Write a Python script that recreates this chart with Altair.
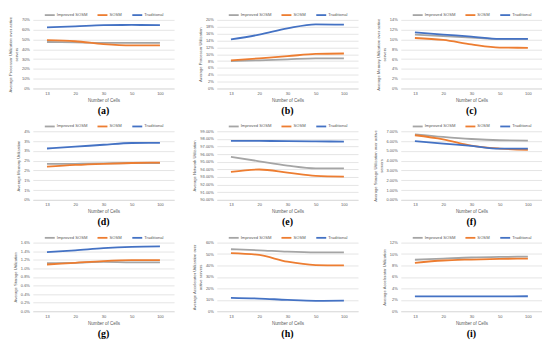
import altair as alt
import pandas as pd

cells = ["13", "20", "30", "50", "100"]
series_names = ["Improved SOSM", "SOSM", "Traditional"]
series_colors = ["#A5A5A5", "#ED7D31", "#4472C4"]

# values in percent
a_improved = [47.4, 47.0, 46.6, 46.6, 46.6]
a_sosm = [49.4, 48.2, 45.3, 44.0, 44.0]
a_traditional = [62.3, 63.3, 64.6, 64.8, 64.6]

b_improved = [8.0, 8.2, 8.5, 8.8, 8.8]
b_sosm = [8.2, 8.8, 9.4, 10.1, 10.2]
b_traditional = [14.3, 15.7, 17.5, 18.7, 18.6]

c_improved = [11.0, 10.7, 10.4, 10.1, 10.1]
c_sosm = [10.3, 9.9, 9.0, 8.35, 8.3]
c_traditional = [11.45, 11.0, 10.6, 10.1, 10.1]

d_improved = [1.83, 1.84, 1.86, 1.88, 1.88]
d_sosm = [1.69, 1.78, 1.84, 1.88, 1.90]
d_traditional = [2.62, 2.71, 2.81, 2.90, 2.91]

e_improved = [95.64, 95.06, 94.5, 94.13, 94.13]
e_sosm = [93.67, 93.98, 93.58, 93.14, 93.05]
e_traditional = [97.74, 97.73, 97.7, 97.66, 97.65]

f_improved = [6.69, 6.42, 6.21, 6.08, 6.04]
f_sosm = [6.59, 6.18, 5.53, 5.23, 5.09]
f_traditional = [6.0, 5.74, 5.5, 5.23, 5.23]

g_improved = [1.12, 1.13, 1.15, 1.14, 1.14]
g_sosm = [1.09, 1.13, 1.17, 1.19, 1.19]
g_traditional = [1.38, 1.42, 1.47, 1.50, 1.51]

h_improved = [54.2, 53.3, 52.1, 51.5, 51.5]
h_sosm = [50.9, 49.2, 43.3, 40.4, 40.1]
h_traditional = [11.7, 11.1, 9.9, 9.1, 9.3]

i_improved = [9.0, 9.2, 9.4, 9.5, 9.55]
i_sosm = [8.46, 8.87, 9.04, 9.16, 9.2]
i_traditional = [2.6, 2.6, 2.6, 2.6, 2.62]

panels_spec = [
    ("(a)", ["Average Processor Utilization over active", "servers"], 0, 70, 10, 0, a_improved, a_sosm, a_traditional),
    ("(b)", "Average Processor Utilization", 0, 20, 2, 0, b_improved, b_sosm, b_traditional),
    ("(c)", ["Average Memory Utilization over active", "servers"], 0, 14, 2, 0, c_improved, c_sosm, c_traditional),
    ("(d)", "Average Memory Utilization", 0, 3.5, 0.5, 0, d_improved, d_sosm, d_traditional),
    ("(e)", "Average Network Utilization", 90, 99, 1, 2, e_improved, e_sosm, e_traditional),
    ("(f)", ["Average Storage Utilization over active", "servers"], 0, 7, 1, 2, f_improved, f_sosm, f_traditional),
    ("(g)", "Average Storage Utilization", 0, 1.6, 0.2, 1, g_improved, g_sosm, g_traditional),
    ("(h)", ["Average Accelerator Utilization over", "active servers"], 0, 60, 10, 0, h_improved, h_sosm, h_traditional),
    ("(i)", "Average Accelerator Utilization", 0, 12, 2, 0, i_improved, i_sosm, i_traditional),
]

FONT = "Liberation Sans"
TXT = "#595959"


def panel(letter, ytitle, lo, hi, step, dec, imp, sosm, trad):
    df = pd.DataFrame({
        "cells": cells * 3,
        "series": [s for s in series_names for _ in cells],
        "value": list(imp) + list(sosm) + list(trad),
    })
    n = int(round((hi - lo) / step))
    ticks = [round(lo + k * step, 4) for k in range(n + 1)]
    return alt.Chart(
        df,
        title=alt.TitleParams(letter, orient="bottom", font="Liberation Serif",
                              fontWeight="bold", fontSize=10, color="black",
                              offset=4, anchor="middle"),
    ).mark_line(strokeWidth=1.8, interpolate="monotone").encode(
        x=alt.X("cells:N", sort=cells,
                axis=alt.Axis(title="Number of Cells", labelAngle=0, grid=False,
                              ticks=False, domainColor="#D9D9D9", domainWidth=0.8,
                              labelFontSize=4, labelColor=TXT, labelFont=FONT,
                              labelPadding=3, titleFontSize=4.5, titleColor=TXT,
                              titleFont=FONT, titleFontWeight="normal", titlePadding=2)),
        y=alt.Y("value:Q", scale=alt.Scale(domain=[lo, hi], nice=False, zero=False),
                axis=alt.Axis(values=ticks,
                              labelExpr=f"format(datum.value, '.{dec}f') + '%'",
                              title=ytitle, grid=True, gridColor="#D9D9D9",
                              gridWidth=0.7, domain=False, ticks=False,
                              labelFontSize=4, labelColor=TXT, labelFont=FONT,
                              labelPadding=3.5, titleFontSize=4.2, titleColor=TXT,
                              titleFont=FONT, titleFontWeight="normal",
                              titlePadding=3, titleLineHeight=5.5)),
        color=alt.Color("series:N",
                        scale=alt.Scale(domain=series_names, range=series_colors),
                        legend=alt.Legend(orient="none", legendX=11, legendY=-11,
                                          direction="horizontal", title=None,
                                          symbolType="stroke", symbolStrokeWidth=1.8,
                                          symbolSize=100, labelFontSize=4.2,
                                          labelColor=TXT, labelFont=FONT,
                                          labelOffset=1, columnPadding=6)),
    ).properties(width=142, height=69)


charts = [panel(*p) for p in panels_spec]

chart = alt.concat(
    *charts, columns=3, spacing={"row": 43, "column": 43}, bounds="flush"
).resolve_scale(color="independent").properties(
    padding=0
).configure_view(stroke=None)

chart.save("out.html", embed_options={"renderer": "svg", "actions": False})
